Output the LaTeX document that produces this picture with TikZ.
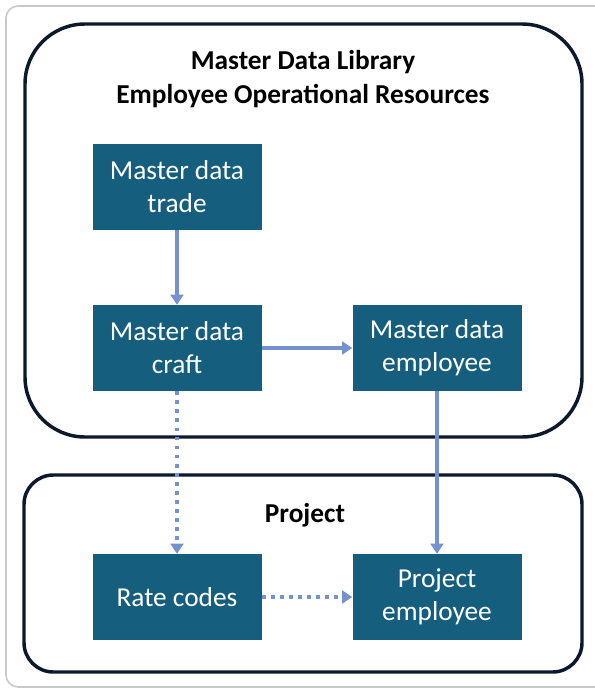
\documentclass[tikz,border=0pt]{standalone}
\usepackage{fontspec}
\setmainfont{Carlito}
\usepackage{tikz}
\usetikzlibrary{fit}
\usetikzlibrary{shapes}
\usetikzlibrary{calc}
\usetikzlibrary{arrows.meta}

\definecolor{boxteal}{RGB}{22,94,125}
\definecolor{linkblue}{RGB}{116,145,208}
\definecolor{framenavy}{RGB}{12,25,45}
\definecolor{pagegray}{RGB}{200,200,200}

\begin{document}
\begin{tikzpicture}[x=0.75pt, y=-0.75pt,
    databox/.style={fill=boxteal, text=white, align=center,
        minimum width=126.75pt, minimum height=64.5pt, inner sep=0pt,
        font=\fontsize{20.5}{24.75}\selectfont},
    groupbox/.style={draw=framenavy, line width=2.6pt, inner sep=0pt},
    link/.style={draw=linkblue, line width=2.6pt,
        -{Triangle[width=9.5pt,length=7.5pt]}},
    weaklink/.style={link, dash pattern=on 2.8pt off 4pt}]
    \useasboundingbox (0,0) rectangle (594,688);
    \draw[pagegray, line width=1.2pt, rounded corners=9pt] (6,6) rectangle (620,687);
    % containers
    \node[groupbox, rounded corners=45pt, minimum width=417.75pt, minimum height=309.75pt]
        (library) at (303.5,230.5) {};
    \node[groupbox, rounded corners=22pt, minimum width=418.5pt, minimum height=147.75pt]
        (project) at (303,573.5) {};
    \node[align=center, font=\bfseries\fontsize{20.5}{25.5}\selectfont] (l-library) at (303,79)
        {Master Data Library\\Employee Operational Resources};
    \node[font=\bfseries\fontsize{20.5}{24}\selectfont] (l-project) at (305,515) {Project};
    % data boxes
    \foreach \nname/\npos/\ntext in {trade/{177,187}/{Master data\\trade},
        craft/{177,348}/{Master data\\craft}, employee/{437,348}/{Master data\\employee},
        rate/{177,597}/{Rate codes}, projemp/{437,597}/{Project\\employee}} {
        \node[databox] (\nname) at (\npos) {\ntext};
    }
    \draw[link] (trade) -- (craft);
    \draw[link] (craft) -- (employee);
    \draw[link] (employee) -- (projemp);
    \draw[weaklink] (craft) -- (rate);
    \draw[weaklink] (rate) -- (projemp);
\end{tikzpicture}
\end{document}
